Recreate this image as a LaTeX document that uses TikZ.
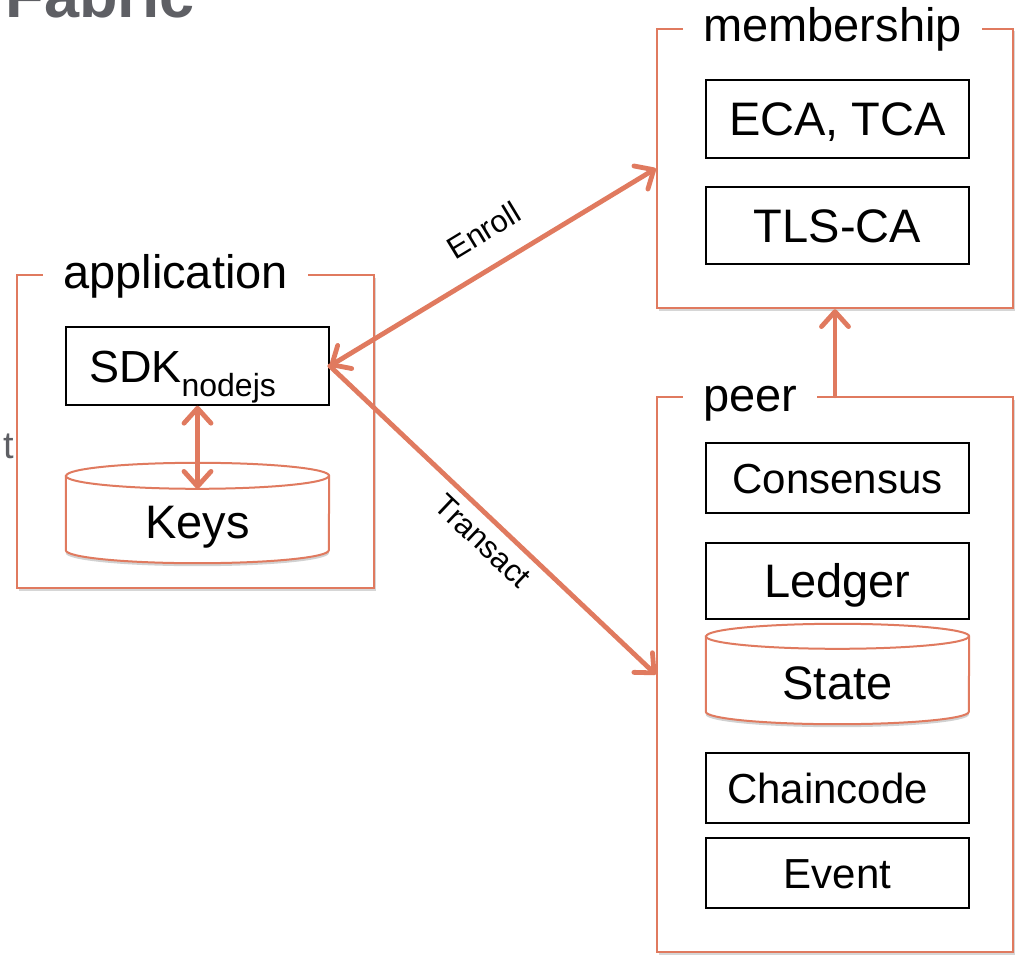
\documentclass[tikz,border=0pt]{standalone}
\usepackage{fontspec}
\setmainfont{Liberation Sans}
\usetikzlibrary{arrows.meta,shadows}

\definecolor{accent}{RGB}{224,122,95}
\definecolor{slidegray}{RGB}{94,95,100}

\newcommand\szA{\fontsize{47pt}{56pt}\selectfont}
\newcommand\szB{\fontsize{42pt}{50pt}\selectfont}
\newcommand\szC{\fontsize{31pt}{37pt}\selectfont}

% database cylinder drawn around an (empty) body node:
% #1 = body node name, #2 = half height of the end ellipses
\newcommand\dbcylinder[2]{%
  \path[cylline, cylshadow] (#1.north west)
    -- ([yshift=#2]#1.south west)
    arc[start angle=180, end angle=360, x radius=131.5pt, y radius=#2]
    -- (#1.north east)
    arc[start angle=0, end angle=180, x radius=131.5pt, y radius=#2]
    -- cycle;
  \draw[draw=accent, line width=2pt] (#1.north west)
    arc[start angle=180, end angle=360, x radius=131.5pt, y radius=#2];
}

\begin{document}
\begin{tikzpicture}[x=1pt, y=1pt,
  >={Straight Barb[length=15pt, width=27pt, round]},
  frame/.style={draw=accent, line width=2.4pt, fill=white, inner sep=0pt,
    drop shadow={shadow xshift=1.5pt, shadow yshift=-2.5pt, opacity=0.16, fill=black}},
  ftitle/.style={fill=white, inner xsep=20pt, inner ysep=3pt, anchor=base west, font=\szA},
  ibox/.style={draw=black, line width=1.6pt, minimum width=263pt, inner sep=0pt, text depth=0pt},
  bigtext/.style={font=\szA, text height=33.7pt},
  midtext/.style={font=\szB, text height=30.1pt},
  cylbody/.style={inner sep=0pt, minimum width=263pt},
  cyltext/.style={inner sep=0pt, font=\szA, text height=33.7pt, text depth=0pt},
  cylline/.style={draw=accent, line width=2pt, fill=white},
  cylshadow/.style={drop shadow={shadow xshift=0pt, shadow yshift=-3pt, opacity=0.18, fill=black}},
  link/.style={draw=accent, line width=4.8pt, line cap=round},
  elabel/.style={font=\szC, inner sep=0pt, text height=22.2pt, text depth=0pt, sloped}
]
\useasboundingbox (0,0) rectangle (1015,-955);
\clip (0,0) rectangle (1015,-955);

% slide heading and side text
\node[anchor=base west, inner sep=0pt, text=slidegray,
      font=\fontsize{63pt}{70pt}\selectfont\bfseries] (heading) at (5.5,-18) {Fabric};
\node[anchor=base east, inner sep=0pt, text=slidegray,
      font=\fontsize{38pt}{45pt}\selectfont] (lefttext) at (14,-458) {t};

% component frames
\node[frame, minimum width=357pt, minimum height=313pt] (app) at (195.5,-431.5) {};
\node[frame, minimum width=356pt, minimum height=279pt] (member) at (835,-168.5) {};
\node[frame, minimum width=356pt, minimum height=555pt] (peer) at (835,-674.5) {};

\node[ftitle] (apptitle) at (43,-288) {application};
\node[ftitle] (membertitle) at (683,-42) {membership};
\node[ftitle] (peertitle) at (683,-411) {peer};

% membership services
\node[ibox, bigtext, minimum height=78pt] (eca) at (837.5,-119) {ECA, TCA};
\node[ibox, bigtext, minimum height=77pt] (tls) at (837.5,-225.5) {TLS-CA};

% peer services
\node[ibox, midtext, minimum height=70pt] (cons) at (837.5,-478) {Consensus};
\node[ibox, bigtext, minimum height=76pt] (ledger) at (837.5,-581) {Ledger};
\node[ibox, midtext, minimum height=70pt] (chain) at (837.5,-788) {Chaincode\kern20pt};
\node[ibox, midtext, minimum height=70pt] (event) at (837.5,-873) {Event};

% application side
\node[ibox, font=\fontsize{45pt}{54pt}\selectfont, text height=32.2pt, minimum height=78pt]
  (sdk) at (197.5,-366) {SDK\raisebox{-14pt}{\fontsize{32pt}{38pt}\selectfont nodejs}\kern30pt};

% data stores
\node[cylbody, minimum height=87pt] (keys) at (197.5,-519.5) {};
\dbcylinder{keys}{13pt}
\node[cyltext] (keystext) at ([yshift=-2pt]keys.center) {Keys};

\node[cylbody, minimum height=87.5pt] (state) at (837.5,-680.25) {};
\dbcylinder{state}{12.5pt}
\node[cyltext] (statetext) at ([yshift=-2pt]state.center) {State};

% connectors
\draw[link, <->] (sdk.south) -- ([yshift=-13pt]keys.north);
\draw[link, <->] (sdk.east) -- node[elabel, above=23pt, pos=0.53] {Enroll} (member.west);
\draw[link, ->] (sdk.east) -- node[elabel, below=8pt, pos=0.516] {Transact} (peer.west);
\draw[link, ->] (peer.north) -- (member.south);
\end{tikzpicture}
\end{document}
